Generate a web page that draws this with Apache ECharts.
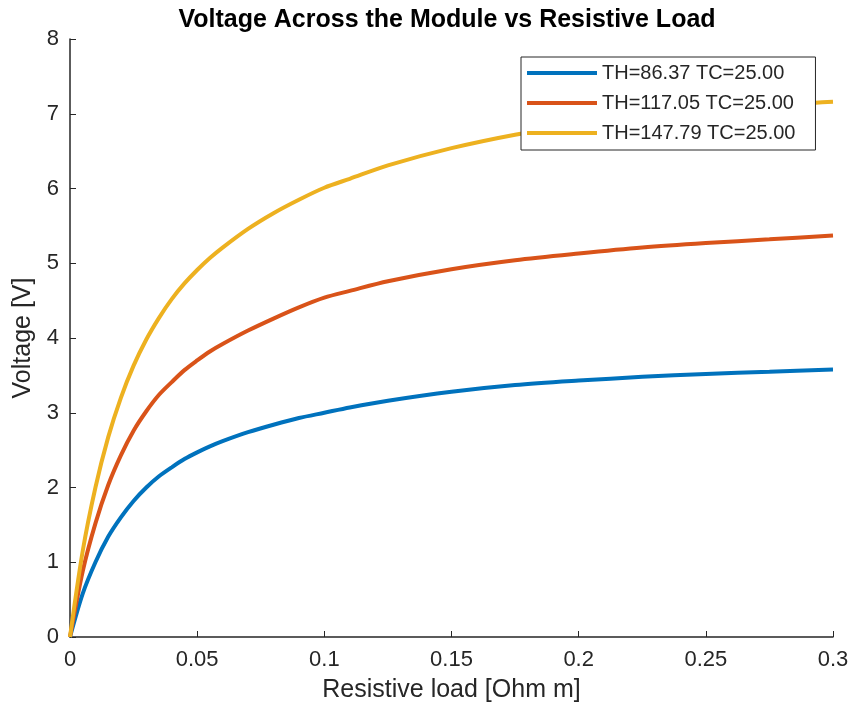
<!DOCTYPE html>
<html>
<head>
<meta charset="utf-8">
<script src="https://cdn.jsdelivr.net/npm/echarts@6/dist/echarts.min.js"></script>
<style>
  html, body { margin: 0; padding: 0; background: #fff; }
  #chart { width: 855px; height: 714px; }
</style>
</head>
<body>
<div id="chart"></div>
<script>
// Resistive load [Ohm m] sample points
const loads = [0, 0.005, 0.01, 0.015, 0.02, 0.025, 0.03, 0.035, 0.04, 0.045, 0.05, 0.055, 0.06, 0.07, 0.08, 0.09, 0.1, 0.11, 0.125, 0.15, 0.175, 0.2, 0.225, 0.25, 0.275, 0.3];

// Voltage [V]
const vTH86 = [0, 0.58, 1.00, 1.34, 1.60, 1.82, 2.00, 2.15, 2.27, 2.38, 2.47, 2.55, 2.62, 2.74, 2.84, 2.93, 3.00, 3.07, 3.16, 3.28, 3.37, 3.43, 3.48, 3.52, 3.55, 3.58];
const vTH117 = [0, 0.88, 1.52, 2.03, 2.43, 2.76, 3.02, 3.24, 3.41, 3.57, 3.70, 3.82, 3.92, 4.10, 4.26, 4.41, 4.54, 4.63, 4.76, 4.92, 5.04, 5.13, 5.21, 5.27, 5.32, 5.37];
const vTH147 = [0, 1.15, 2.00, 2.67, 3.20, 3.63, 3.98, 4.27, 4.52, 4.73, 4.91, 5.07, 5.21, 5.46, 5.67, 5.85, 6.01, 6.13, 6.31, 6.54, 6.72, 6.86, 6.96, 7.04, 7.11, 7.16];

const seriesNames = ['TH=86.37 TC=25.00', 'TH=117.05 TC=25.00', 'TH=147.79 TC=25.00'];
const colors = ['#0072BD', '#D95319', '#EDB120'];

const font = "'Liberation Sans', Arial, Helvetica, sans-serif";
const ink = '#262626';

const chart = echarts.init(document.getElementById('chart'));

const makeSeries = (name, values, color) => ({
    name: name,
    type: 'line',
    data: loads.map((x, i) => [x, values[i]]),
    smooth: 0.3,
    symbol: 'none',
    lineStyle: { color: color, width: 4 },
    itemStyle: { color: color }
});

const option = {
    backgroundColor: '#fff',
    animation: false,
    title: {
        text: 'Voltage Across the Module vs Resistive Load',
        left: 442,
        textAlign: 'center',
        top: 3,
        textStyle: { fontFamily: font, fontSize: 25, fontWeight: 'bold', color: '#000' }
    },
    grid: { left: 70, right: 22, top: 39, bottom: 77, containLabel: false },
    legend: {
        orient: 'vertical',
        left: 521,
        top: 57,
        padding: [6, 20, 7, 6],
        itemGap: 10,
        itemWidth: 70,
        itemHeight: 4,
        itemTextGap: 7,
        icon: 'rect',
        backgroundColor: '#fff',
        borderColor: ink,
        borderWidth: 1,
        borderRadius: 0,
        textStyle: { fontFamily: font, fontSize: 20, color: ink },
        data: seriesNames
    },
    xAxis: {
        type: 'value',
        min: 0,
        max: 0.3,
        interval: 0.05,
        name: 'Resistive load [Ohm m]',
        nameLocation: 'middle',
        nameGap: 41,
        nameTextStyle: { fontFamily: font, fontSize: 25, color: ink },
        axisLine: { show: true, lineStyle: { color: ink, width: 1.5 } },
        axisTick: { show: true, inside: true, length: 6, lineStyle: { color: ink } },
        axisLabel: { fontFamily: font, fontSize: 22, color: ink, margin: 12, formatter: (v) => String(+v.toFixed(2)) },
        splitLine: { show: false }
    },
    yAxis: {
        type: 'value',
        min: 0,
        max: 8,
        interval: 1,
        name: 'Voltage [V]',
        nameLocation: 'middle',
        nameGap: 31,
        nameTextStyle: { fontFamily: font, fontSize: 25, color: ink },
        axisLine: { show: true, lineStyle: { color: ink, width: 1.5 } },
        axisTick: { show: true, inside: true, length: 6, lineStyle: { color: ink } },
        axisLabel: { fontFamily: font, fontSize: 22, color: ink, margin: 11 },
        splitLine: { show: false }
    },
    series: [
        makeSeries(seriesNames[0], vTH86, colors[0]),
        makeSeries(seriesNames[1], vTH117, colors[1]),
        makeSeries(seriesNames[2], vTH147, colors[2])
    ]
};

chart.setOption(option);
</script>
</body>
</html>
